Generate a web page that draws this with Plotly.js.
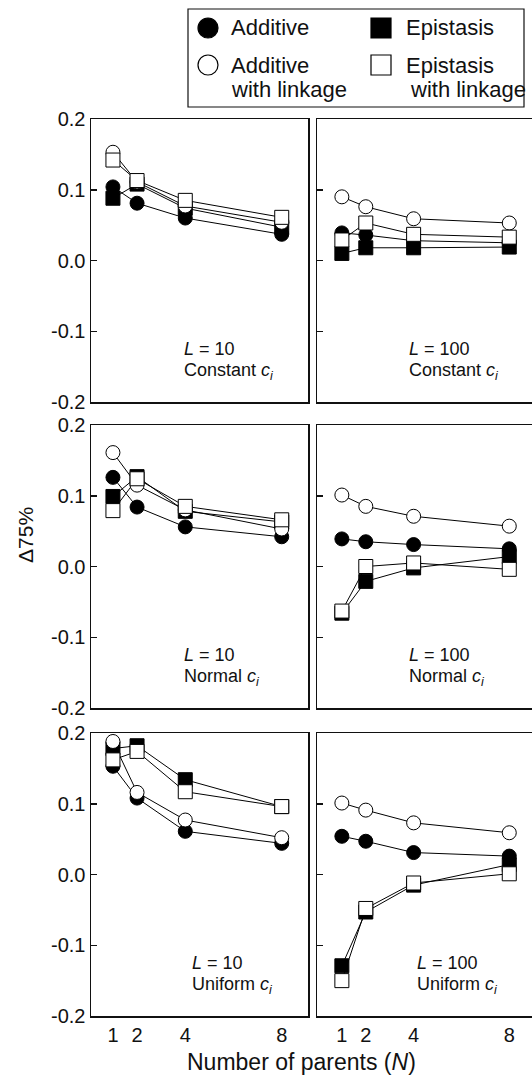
<!DOCTYPE html>
<html>
<head>
<meta charset="utf-8">
<script src="https://cdn.plot.ly/plotly-3.0.1.min.js"></script>
<style>html,body{margin:0;padding:0;background:#fff;}#chart{width:532px;height:1077px;}</style>
</head>
<body>
<div id="chart"></div>
<script>
// ---- data ----
const parents = [1, 2, 4, 8];
const xTickLabels = ["1", "2", "4", "8"];
const yTickVals = [-0.2, -0.1, 0.0, 0.1, 0.2];
const yTickLabels = ["-0.2", "-0.1", "0.0", "0.1", "0.2"];
const seriesNames = ["Additive", "Epistasis", "Additive with linkage", "Epistasis with linkage"];

// L = 10, Constant c_i
const add_c10  = [0.104, 0.081, 0.060, 0.037];
const epi_c10  = [0.088, 0.108, 0.074, 0.047];
const addL_c10 = [0.153, 0.111, 0.077, 0.054];
const epiL_c10 = [0.142, 0.113, 0.085, 0.061];
// L = 100, Constant c_i
const add_c100  = [0.039, 0.036, 0.028, 0.025];
const epi_c100  = [0.010, 0.018, 0.018, 0.019];
const addL_c100 = [0.090, 0.076, 0.059, 0.053];
const epiL_c100 = [0.029, 0.053, 0.037, 0.033];
// L = 10, Normal c_i
const add_n10  = [0.126, 0.084, 0.056, 0.042];
const epi_n10  = [0.099, 0.127, 0.078, 0.063];
const addL_n10 = [0.161, 0.115, 0.080, 0.053];
const epiL_n10 = [0.079, 0.124, 0.085, 0.066];
// L = 100, Normal c_i
const add_n100  = [0.039, 0.035, 0.031, 0.025];
const epi_n100  = [-0.066, -0.021, -0.002, 0.014];
const addL_n100 = [0.101, 0.085, 0.071, 0.057];
const epiL_n100 = [-0.063, 0.000, 0.005, -0.004];
// L = 10, Uniform c_i
const add_u10  = [0.153, 0.108, 0.061, 0.044];
const epi_u10  = [0.178, 0.182, 0.134, 0.096];
const addL_u10 = [0.188, 0.116, 0.077, 0.052];
const epiL_u10 = [0.162, 0.174, 0.117, 0.096];
// L = 100, Uniform c_i
const add_u100  = [0.054, 0.047, 0.031, 0.026];
const epi_u100  = [-0.129, -0.053, -0.015, 0.014];
const addL_u100 = [0.101, 0.091, 0.073, 0.059];
const epiL_u100 = [-0.150, -0.048, -0.012, 0.001];

const panels = [
  {row: 0, col: 0, L: "10",  dist: "Constant", s: [add_c10, epi_c10, addL_c10, epiL_c10]},
  {row: 0, col: 1, L: "100", dist: "Constant", s: [add_c100, epi_c100, addL_c100, epiL_c100]},
  {row: 1, col: 0, L: "10",  dist: "Normal",   s: [add_n10, epi_n10, addL_n10, epiL_n10]},
  {row: 1, col: 1, L: "100", dist: "Normal",   s: [add_n100, epi_n100, addL_n100, epiL_n100]},
  {row: 2, col: 0, L: "10",  dist: "Uniform",  s: [add_u10, epi_u10, addL_u10, epiL_u10]},
  {row: 2, col: 1, L: "100", dist: "Uniform",  s: [add_u100, epi_u100, addL_u100, epiL_u100]}
];

// ---- layout geometry (pixels) ----
const W = 532, H = 1077;
const px = v => v / W;
const py = v => 1 - v / H;
const colPx = [[91, 308], [317, 532]];
const colRange = [[0.09, 9.09], [-0.04, 8.95]];
const rowPx = [[119, 402], [425, 708], [733, 1016]];
const FONT = "Liberation Sans, Arial, Helvetica, sans-serif";

const styles = [
  {symbol: "circle", fill: "#000"},
  {symbol: "square", fill: "#000"},
  {symbol: "circle", fill: "#fff"},
  {symbol: "square", fill: "#fff"}
];

const traces = [];
const layout = {
  width: W, height: H,
  margin: {l: 0, r: 0, t: 0, b: 0, autoexpand: false},
  paper_bgcolor: "#fff", plot_bgcolor: "rgba(0,0,0,0)",
  showlegend: false,
  font: {family: FONT, color: "#111"},
  annotations: [], shapes: []
};

panels.forEach((p, i) => {
  const n = i + 1;
  const xa = n === 1 ? "x" : "x" + n;
  const ya = n === 1 ? "y" : "y" + n;
  const xk = n === 1 ? "xaxis" : "xaxis" + n;
  const yk = n === 1 ? "yaxis" : "yaxis" + n;
  const cp = colPx[p.col], rp = rowPx[p.row];
  layout[xk] = {
    domain: [px(cp[0]), px(cp[1])], range: colRange[p.col], anchor: ya,
    showline: true, mirror: true, linecolor: "#111", linewidth: 1.5,
    ticks: "", showgrid: false, zeroline: false,
    tickvals: parents, ticktext: xTickLabels,
    showticklabels: p.row === 2, tickfont: {size: 20, family: FONT, color: "#111"},
    fixedrange: true
  };
  layout[yk] = {
    domain: [py(rp[1]), py(rp[0])], range: [-0.2, 0.2], anchor: xa,
    showline: true, mirror: p.col === 0, linecolor: "#111", linewidth: 1.5,
    ticks: "inside", ticklen: 6, tickwidth: 1.5, tickcolor: "#111",
    showgrid: false, zeroline: false,
    tickvals: yTickVals, ticktext: yTickLabels,
    showticklabels: p.col === 0, tickfont: {size: 20, family: FONT, color: "#111"},
    fixedrange: true
  };
  // lines first
  p.s.forEach((vals, k) => {
    traces.push({x: parents, y: vals, xaxis: xa, yaxis: ya, type: "scatter", mode: "lines",
      name: seriesNames[k], line: {color: "#000", width: 1}, hoverinfo: "skip", cliponaxis: false});
  });
  // then markers
  p.s.forEach((vals, k) => {
    traces.push({x: parents, y: vals, xaxis: xa, yaxis: ya, type: "scatter", mode: "markers",
      name: seriesNames[k],
      marker: {symbol: styles[k].symbol, size: 14, color: styles[k].fill, line: {color: "#000", width: 1}},
      cliponaxis: false});
  });
  // panel labels
  const lx = p.col === 0 ? (p.row === 2 ? 190 : 182) : (p.row === 2 ? 415 : 407);
  layout.annotations.push({xref: "paper", yref: "paper", x: px(lx), y: py(rp[0] + 230),
    xanchor: "left", yanchor: "middle", showarrow: false,
    text: "<i>L</i> = " + p.L, font: {size: 18, family: FONT, color: "#111"}});
  layout.annotations.push({xref: "paper", yref: "paper", x: px(lx), y: py(rp[0] + 252),
    xanchor: "left", yanchor: "middle", showarrow: false,
    text: p.dist + " <i>c<sub>i</sub></i>", font: {size: 18, family: FONT, color: "#111"}});
});

// axis titles
layout.annotations.push({xref: "paper", yref: "paper", x: px(301), y: py(1062),
  xanchor: "center", yanchor: "middle", showarrow: false,
  text: "Number of parents (<i>N</i>)", font: {size: 23, family: FONT, color: "#111"}});
layout.annotations.push({xref: "paper", yref: "paper", x: px(25), y: py(535),
  xanchor: "center", yanchor: "middle", showarrow: false, textangle: -90,
  text: "Δ75%", font: {size: 21, family: FONT, color: "#111"}});

// legend box
layout.shapes.push({type: "rect", xref: "paper", yref: "paper",
  x0: px(188), x1: px(524), y0: py(107), y1: py(9),
  line: {color: "#111", width: 1.2}, fillcolor: "#fff", layer: "below"});
const legItems = [
  {cx: 208, cy: 28, k: 0, lines: [["Additive", 229, 28]]},
  {cx: 381, cy: 28, k: 1, lines: [["Epistasis", 404, 28]]},
  {cx: 208, cy: 65, k: 2, lines: [["Additive", 229, 65], ["with linkage", 229, 90]]},
  {cx: 381, cy: 65, k: 3, lines: [["Epistasis", 404, 65], ["with linkage", 408, 90]]}
];
legItems.forEach(it => {
  const r = 10;
  layout.shapes.push({type: styles[it.k].symbol === "circle" ? "circle" : "rect",
    xref: "paper", yref: "paper",
    x0: px(it.cx - r), x1: px(it.cx + r), y0: py(it.cy + r), y1: py(it.cy - r),
    fillcolor: styles[it.k].fill, line: {color: "#000", width: 1.2}});
  it.lines.forEach(l => {
    layout.annotations.push({xref: "paper", yref: "paper", x: px(l[1]), y: py(l[2]),
      xanchor: "left", yanchor: "middle", showarrow: false,
      text: l[0], font: {size: 22, family: FONT, color: "#111"}});
  });
});

Plotly.newPlot("chart", traces, layout, {staticPlot: true, displayModeBar: false});
</script>
</body>
</html>
